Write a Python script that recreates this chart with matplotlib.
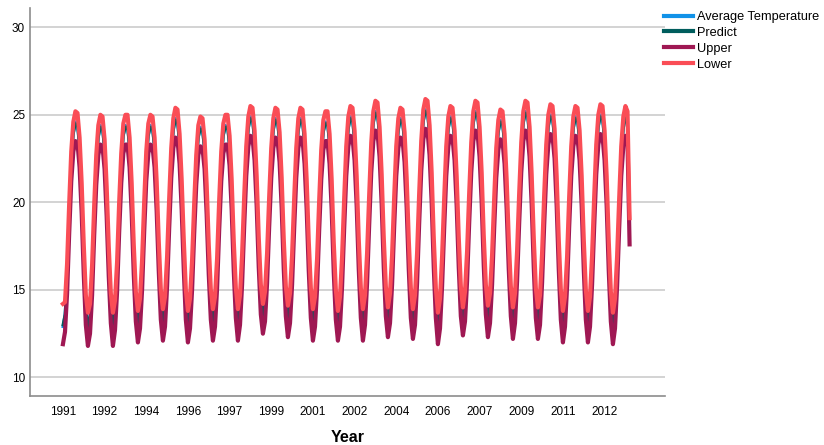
import matplotlib.pyplot as plt

# monthly values, Jan 1991 .. Sep 2013
avg_temp = [
    12.9, 13.6, 15.8, 19.2, 22.2, 23.9, 24.6, 24.4, 23.0, 20.4, 16.9, 14.0,
    12.8, 13.5, 15.7, 19.1, 22.0, 23.7, 24.4, 24.2, 22.9, 20.2, 16.8, 14.1,
    12.9, 13.7, 15.9, 19.3, 22.1, 23.8, 24.4, 24.3, 23.0, 20.4, 16.9, 14.2,
    13.0, 13.8, 16.0, 19.3, 22.2, 23.8, 24.4, 24.2, 23.0, 20.5, 17.1, 14.3,
    13.2, 13.9, 16.2, 19.5, 22.4, 24.1, 24.8, 24.6, 23.2, 20.6, 17.2, 14.3,
    13.1, 13.8, 16.0, 19.2, 22.0, 23.7, 24.3, 24.1, 22.9, 20.3, 16.9, 14.3,
    13.2, 13.9, 16.1, 19.4, 22.2, 23.8, 24.4, 24.3, 23.1, 20.6, 17.1, 14.4,
    13.2, 14.0, 16.3, 19.6, 22.5, 24.2, 24.9, 24.7, 23.4, 20.8, 17.3, 14.6,
    13.5, 14.2, 16.4, 19.6, 22.4, 24.1, 24.8, 24.6, 23.3, 20.7, 17.2, 14.5,
    13.4, 14.1, 16.3, 19.5, 22.4, 24.1, 24.8, 24.6, 23.2, 20.6, 17.1, 14.4,
    13.2, 13.9, 16.1, 19.4, 22.3, 24.0, 24.6, 24.5, 23.2, 20.6, 17.0, 14.3,
    13.1, 13.9, 16.2, 19.5, 22.5, 24.2, 24.9, 24.7, 23.4, 20.8, 17.2, 14.4,
    13.2, 14.0, 16.4, 19.7, 22.7, 24.5, 25.2, 25.0, 23.6, 20.9, 17.3, 14.5,
    13.4, 14.1, 16.3, 19.6, 22.5, 24.1, 24.8, 24.6, 23.3, 20.7, 17.2, 14.4,
    13.2, 14.0, 16.4, 19.8, 22.8, 24.6, 25.3, 25.1, 23.7, 21.0, 17.3, 14.4,
    13.0, 13.8, 16.2, 19.5, 22.5, 24.2, 24.9, 24.7, 23.4, 20.8, 17.3, 14.5,
    13.4, 14.2, 16.5, 19.8, 22.7, 24.5, 25.2, 25.0, 23.6, 21.0, 17.4, 14.6,
    13.4, 14.1, 16.3, 19.5, 22.4, 24.0, 24.7, 24.5, 23.2, 20.6, 17.2, 14.5,
    13.3, 14.1, 16.5, 19.8, 22.7, 24.5, 25.2, 25.0, 23.6, 20.9, 17.3, 14.4,
    13.3, 14.0, 16.4, 19.7, 22.6, 24.3, 25.0, 24.8, 23.5, 20.8, 17.2, 14.3,
    13.1, 13.9, 16.2, 19.6, 22.5, 24.2, 24.9, 24.7, 23.4, 20.8, 17.2, 14.3,
    13.1, 13.9, 16.3, 19.6, 22.6, 24.3, 25.0, 24.8, 23.4, 20.8, 17.1, 14.2,
    13.0, 13.8, 16.2, 19.5, 22.5, 24.2, 24.9, 24.6, 18.2,
]

predict = [
    13.0, 13.6, 15.8, 19.2, 22.2, 23.9, 24.5, 24.4, 23.0, 20.4, 16.9, 14.0,
    12.9, 13.5, 15.7, 19.1, 22.0, 23.7, 24.3, 24.2, 22.9, 20.2, 16.8, 14.1,
    12.9, 13.7, 15.9, 19.3, 22.1, 23.8, 24.3, 24.3, 23.0, 20.4, 16.9, 14.2,
    13.0, 13.8, 16.0, 19.3, 22.2, 23.8, 24.3, 24.2, 23.0, 20.5, 17.1, 14.3,
    13.1, 13.9, 16.2, 19.5, 22.4, 24.1, 24.7, 24.6, 23.2, 20.6, 17.2, 14.3,
    13.1, 13.8, 16.0, 19.2, 22.0, 23.7, 24.2, 24.1, 22.9, 20.3, 16.9, 14.3,
    13.2, 13.9, 16.1, 19.4, 22.2, 23.8, 24.3, 24.3, 23.1, 20.6, 17.1, 14.4,
    13.3, 14.0, 16.3, 19.6, 22.5, 24.2, 24.8, 24.7, 23.4, 20.8, 17.3, 14.6,
    13.4, 14.2, 16.4, 19.6, 22.4, 24.1, 24.7, 24.6, 23.3, 20.7, 17.2, 14.5,
    13.4, 14.1, 16.3, 19.5, 22.4, 24.1, 24.7, 24.6, 23.2, 20.6, 17.1, 14.4,
    13.2, 13.9, 16.1, 19.4, 22.3, 24.0, 24.5, 24.5, 23.2, 20.6, 17.0, 14.3,
    13.1, 13.9, 16.2, 19.5, 22.5, 24.2, 24.8, 24.7, 23.4, 20.8, 17.2, 14.4,
    13.2, 14.0, 16.4, 19.7, 22.7, 24.5, 25.1, 25.0, 23.6, 20.9, 17.3, 14.5,
    13.3, 14.1, 16.3, 19.6, 22.5, 24.1, 24.7, 24.6, 23.3, 20.7, 17.2, 14.4,
    13.2, 14.0, 16.4, 19.8, 22.8, 24.6, 25.2, 25.1, 23.7, 21.0, 17.3, 14.4,
    13.0, 13.8, 16.2, 19.5, 22.5, 24.2, 24.8, 24.7, 23.4, 20.8, 17.3, 14.5,
    13.3, 14.2, 16.5, 19.8, 22.7, 24.5, 25.1, 25.0, 23.6, 21.0, 17.4, 14.6,
    13.4, 14.1, 16.3, 19.5, 22.4, 24.0, 24.6, 24.5, 23.2, 20.6, 17.2, 14.5,
    13.3, 14.1, 16.5, 19.8, 22.7, 24.5, 25.1, 25.0, 23.6, 20.9, 17.3, 14.4,
    13.3, 14.0, 16.4, 19.7, 22.6, 24.3, 24.9, 24.8, 23.5, 20.8, 17.2, 14.3,
    13.1, 13.9, 16.2, 19.6, 22.5, 24.2, 24.8, 24.7, 23.4, 20.8, 17.2, 14.3,
    13.1, 13.9, 16.3, 19.6, 22.6, 24.3, 24.9, 24.8, 23.4, 20.8, 17.1, 14.2,
    13.0, 13.8, 16.2, 19.5, 22.5, 24.2, 24.8, 24.5, 18.5,
]

upper = [
    11.9, 12.6, 14.8, 18.2, 21.2, 22.9, 23.5, 23.4, 22.0, 19.4, 15.9, 13.0,
    11.8, 12.5, 14.7, 18.1, 21.0, 22.7, 23.3, 23.2, 21.9, 19.2, 15.8, 13.1,
    11.8, 12.7, 14.9, 18.3, 21.1, 22.8, 23.3, 23.3, 22.0, 19.4, 15.9, 13.2,
    12.0, 12.8, 15.0, 18.3, 21.2, 22.8, 23.3, 23.2, 22.0, 19.5, 16.1, 13.3,
    12.1, 12.9, 15.2, 18.5, 21.4, 23.1, 23.7, 23.6, 22.2, 19.6, 16.2, 13.3,
    12.0, 12.8, 15.0, 18.2, 21.0, 22.7, 23.2, 23.1, 21.9, 19.3, 15.9, 13.3,
    12.1, 12.9, 15.1, 18.4, 21.2, 22.8, 23.3, 23.3, 22.1, 19.6, 16.1, 13.4,
    12.1, 13.0, 15.3, 18.6, 21.5, 23.2, 23.8, 23.7, 22.4, 19.8, 16.3, 13.6,
    12.5, 13.2, 15.4, 18.6, 21.4, 23.1, 23.7, 23.6, 22.3, 19.7, 16.2, 13.5,
    12.3, 13.1, 15.3, 18.5, 21.4, 23.1, 23.7, 23.6, 22.2, 19.6, 16.1, 13.4,
    12.1, 12.9, 15.1, 18.4, 21.3, 23.0, 23.5, 23.5, 22.2, 19.6, 16.0, 13.3,
    12.1, 12.9, 15.2, 18.5, 21.5, 23.2, 23.8, 23.7, 22.4, 19.8, 16.2, 13.4,
    12.1, 13.0, 15.4, 18.7, 21.7, 23.5, 24.1, 24.0, 22.6, 19.9, 16.3, 13.5,
    12.3, 13.1, 15.3, 18.6, 21.5, 23.1, 23.7, 23.6, 22.3, 19.7, 16.2, 13.4,
    12.2, 13.0, 15.4, 18.8, 21.8, 23.6, 24.2, 24.1, 22.7, 20.0, 16.3, 13.4,
    11.9, 12.8, 15.2, 18.5, 21.5, 23.2, 23.8, 23.7, 22.4, 19.8, 16.3, 13.5,
    12.4, 13.2, 15.5, 18.8, 21.7, 23.5, 24.1, 24.0, 22.6, 20.0, 16.4, 13.6,
    12.3, 13.1, 15.3, 18.5, 21.4, 23.0, 23.6, 23.5, 22.2, 19.6, 16.2, 13.5,
    12.2, 13.1, 15.5, 18.8, 21.7, 23.5, 24.1, 24.0, 22.6, 19.9, 16.3, 13.4,
    12.2, 13.0, 15.4, 18.7, 21.6, 23.3, 23.9, 23.8, 22.5, 19.8, 16.2, 13.3,
    12.0, 12.9, 15.2, 18.6, 21.5, 23.2, 23.8, 23.7, 22.4, 19.8, 16.2, 13.3,
    12.0, 12.9, 15.3, 18.6, 21.6, 23.3, 23.9, 23.8, 22.4, 19.8, 16.1, 13.2,
    11.9, 12.8, 15.2, 18.5, 21.5, 23.2, 23.8, 23.5, 17.6,
]

lower = [
    14.2, 14.3, 16.5, 19.9, 22.9, 24.6, 25.2, 25.1, 23.7, 21.1, 17.6, 14.7,
    13.7, 14.2, 16.4, 19.8, 22.7, 24.4, 25.0, 24.9, 23.6, 20.9, 17.5, 14.8,
    13.7, 14.4, 16.6, 20.0, 22.8, 24.5, 25.0, 25.0, 23.7, 21.1, 17.6, 14.9,
    13.8, 14.5, 16.7, 20.0, 22.9, 24.5, 25.0, 24.9, 23.7, 21.2, 17.8, 15.0,
    13.9, 14.6, 16.9, 20.2, 23.1, 24.8, 25.4, 25.3, 23.9, 21.3, 17.9, 15.0,
    13.8, 14.5, 16.7, 19.9, 22.7, 24.4, 24.9, 24.8, 23.6, 21.0, 17.6, 15.0,
    13.9, 14.6, 16.8, 20.1, 22.9, 24.5, 25.0, 25.0, 23.8, 21.3, 17.8, 15.1,
    13.9, 14.7, 17.0, 20.3, 23.2, 24.9, 25.5, 25.4, 24.1, 21.5, 18.0, 15.3,
    14.2, 14.9, 17.1, 20.3, 23.1, 24.8, 25.4, 25.3, 24.0, 21.4, 17.9, 15.2,
    14.1, 14.8, 17.0, 20.2, 23.1, 24.8, 25.4, 25.3, 23.9, 21.3, 17.8, 15.1,
    13.9, 14.6, 16.8, 20.1, 23.0, 24.7, 25.2, 25.2, 23.9, 21.3, 17.7, 15.0,
    13.8, 14.6, 16.9, 20.2, 23.2, 24.9, 25.5, 25.4, 24.1, 21.5, 17.9, 15.1,
    13.9, 14.7, 17.1, 20.4, 23.4, 25.2, 25.8, 25.7, 24.3, 21.6, 18.0, 15.2,
    14.0, 14.8, 17.0, 20.3, 23.2, 24.8, 25.4, 25.3, 24.0, 21.4, 17.9, 15.1,
    13.9, 14.7, 17.1, 20.5, 23.5, 25.3, 25.9, 25.8, 24.4, 21.7, 18.0, 15.1,
    13.7, 14.5, 16.9, 20.2, 23.2, 24.9, 25.5, 25.4, 24.1, 21.5, 18.0, 15.2,
    14.0, 14.9, 17.2, 20.5, 23.4, 25.2, 25.8, 25.7, 24.3, 21.7, 18.1, 15.3,
    14.1, 14.8, 17.0, 20.2, 23.1, 24.7, 25.3, 25.2, 23.9, 21.3, 17.9, 15.2,
    14.0, 14.8, 17.2, 20.5, 23.4, 25.2, 25.8, 25.7, 24.3, 21.6, 18.0, 15.1,
    14.0, 14.7, 17.1, 20.4, 23.3, 25.0, 25.6, 25.5, 24.2, 21.5, 17.9, 15.0,
    13.8, 14.6, 16.9, 20.3, 23.2, 24.9, 25.5, 25.4, 24.1, 21.5, 17.9, 15.0,
    13.8, 14.6, 17.0, 20.3, 23.3, 25.0, 25.6, 25.5, 24.1, 21.5, 17.8, 14.9,
    13.7, 14.5, 16.9, 20.2, 23.2, 24.9, 25.5, 25.2, 19.1,
]

tick_pos = [0, 20, 40, 60, 80, 100, 120, 140, 160, 180, 200, 220, 240, 260]
tick_labels = ['1991', '1992', '1994', '1996', '1997', '1999', '2001',
               '2002', '2004', '2006', '2007', '2009', '2011', '2012']

plt.rcParams['font.family'] = ['Liberation Sans', 'DejaVu Sans']

fig = plt.figure(figsize=(8.24, 4.45), dpi=100)
ax = fig.add_axes([30 / 824, 1 - 396 / 445, 635 / 824, 388 / 445])

x = list(range(len(avg_temp)))
ax.plot(x, avg_temp, color='#1192e8', lw=2, label='Average Temperature')
ax.plot(x, predict, color='#005d5d', lw=2, label='Predict')
ax.plot(x, upper, color='#9f1853', lw=3, label='Upper')
ax.plot(x, lower, color='#fa4d56', lw=3, label='Lower')

ax.set_xlim(-15.8, 289)
ax.set_ylim(8.94, 31.1)
ax.set_yticks([10, 15, 20, 25, 30])
ax.set_xticks(tick_pos)
ax.set_xticklabels(tick_labels)
ax.tick_params(axis='x', length=0, labelsize=8.5, pad=7)
ax.tick_params(axis='y', length=0, labelsize=8.5, pad=3.5)
ax.yaxis.grid(True, color='#c8c8c8', lw=1.1)
ax.set_axisbelow(True)
for s in ['top', 'right']:
    ax.spines[s].set_visible(False)
for s in ['left', 'bottom']:
    ax.spines[s].set_color('#8c8c8c')
    ax.spines[s].set_linewidth(1.2)

ax.set_xlabel('Year', fontsize=11.5, fontweight='bold', labelpad=9)

leg = fig.legend(loc='upper left', bbox_to_anchor=(664 / 824, 1 - 11 / 445),
                 frameon=False, fontsize=9.2, handlelength=2.3, handletextpad=0.3,
                 labelspacing=0.3, borderaxespad=0, borderpad=0)
for line in leg.get_lines():
    line.set_linewidth(3)

fig.savefig('out.png', dpi=100)
